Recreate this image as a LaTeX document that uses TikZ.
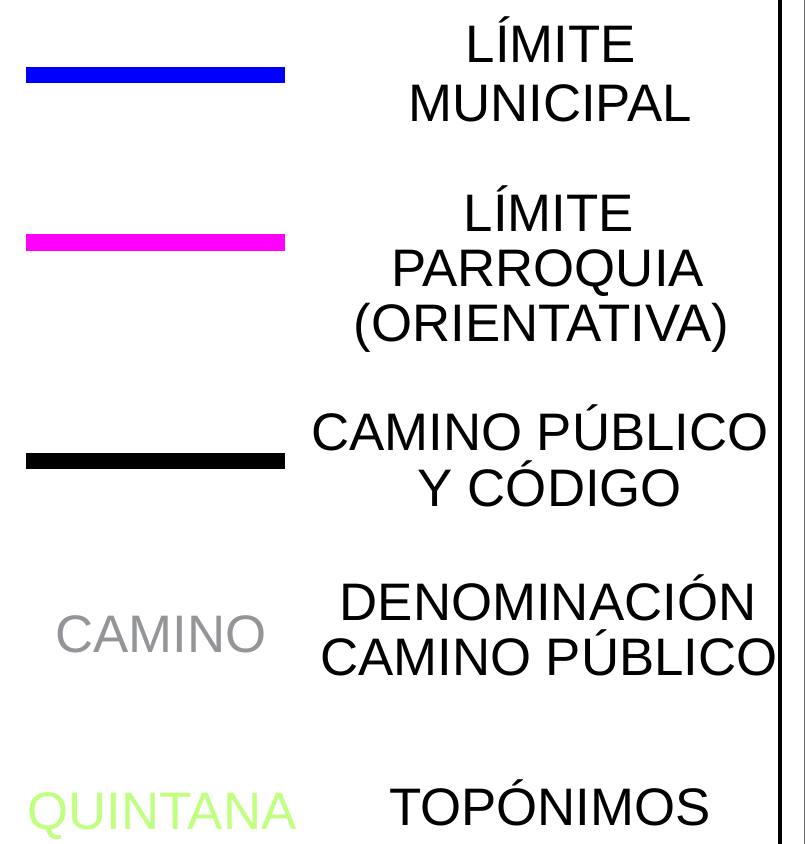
\documentclass[tikz,border=0pt]{standalone}
\usepackage{fontspec}
\setmainfont{Liberation Sans}
\definecolor{muniblue}{RGB}{0,0,255}
\definecolor{parmag}{RGB}{255,0,255}
\definecolor{namegray}{RGB}{147,149,152}
\definecolor{topgreen}{RGB}{192,255,128}
\begin{document}
\begin{tikzpicture}[x=1pt,y=-1pt,
  lbl/.style={inner sep=0pt,anchor=base,font=\fontsize{52.8}{60}\selectfont}]
\useasboundingbox[fill=white] (0,0) rectangle (805,844);
% legend swatches
\fill[muniblue] (26,67) rectangle (285,83);
\fill[parmag] (26,234) rectangle (285,250.5);
\fill[black] (26,453) rectangle (285,469);
\node[lbl,text=namegray] (camg) at (161,652) {CAMINO};
\node[lbl,text=topgreen] (quin) at (162,829) {QUINTANA};
% descriptions
\node[lbl] (l1a) at (551,62.5) {LÍMITE};
\node[lbl] (l1b) at (550,121) {MUNICIPAL};
\node[lbl] (l2a) at (549,231.5) {LÍMITE};
\node[lbl] (l2b) at (547.5,286.5) {PARROQUIA};
\node[lbl] (l2c) at (541.5,341.5) {(ORIENTATIVA)};
\node[lbl] (l3a) at (540,450.5) {CAMINO PÚBLICO};
\node[lbl] (l3b) at (550,506.5) {Y CÓDIGO};
\node[lbl] (l4a) at (548,620) {DENOMINACIÓN};
\node[lbl] (l4b) at (549,675) {CAMINO PÚBLICO};
\node[lbl] (l5) at (550,825) {TOPÓNIMOS};
% frame lines
\fill[black] (778,0) rectangle (782,844);
\fill[black!60] (803.5,0) rectangle (805,844);
\end{tikzpicture}
\end{document}
